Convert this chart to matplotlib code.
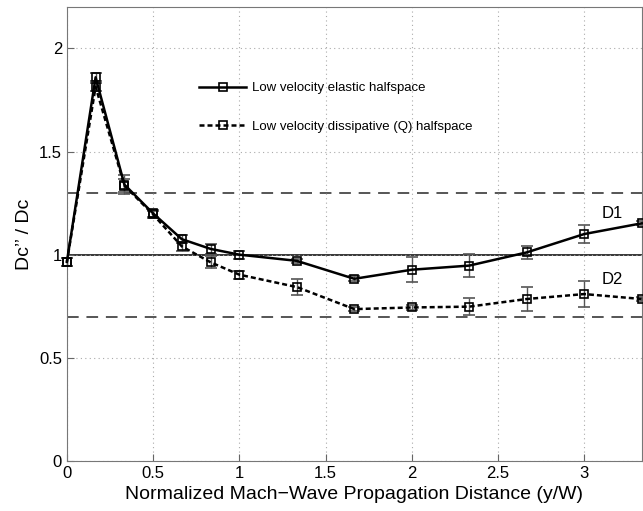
import matplotlib.pyplot as plt
from matplotlib.lines import Line2D

plt.rcParams['font.family'] = ['Liberation Sans', 'DejaVu Sans']

# normalized distance y/W
dist = [0, 1/6, 1/3, 0.5, 2/3, 5/6, 1, 4/3, 5/3, 2, 7/3, 8/3, 3, 10/3]

elastic = [0.965, 1.86, 1.34, 1.20, 1.075, 1.028, 1.00, 0.97, 0.883, 0.927, 0.947, 1.011, 1.10, 1.152]
elastic_err = [0.02, 0.02, 0.045, 0.015, 0.02, 0.025, 0.02, 0.01, 0.012, 0.06, 0.057, 0.03, 0.045, 0.01]

dissip = [0.965, 1.814, 1.335, 1.195, 1.04, 0.963, 0.903, 0.843, 0.736, 0.744, 0.748, 0.785, 0.809, 0.785]
dissip_err = [0.02, 0.02, 0.03, 0.015, 0.02, 0.03, 0.02, 0.04, 0.01, 0.01, 0.04, 0.06, 0.065, 0.01]

labels = ['Low velocity elastic halfspace', 'Low velocity dissipative (Q) halfspace']

fig = plt.figure(figsize=(6.43, 5.11), dpi=100)
ax = fig.add_axes([0.104, 0.098, 0.894, 0.888])

ax.axhline(1.0, color='k', lw=1.1, zorder=1)
ax.axhline(1.3, color='#555555', lw=1.4, ls=(0, (6, 4)), zorder=1)
ax.axhline(0.7, color='#555555', lw=1.4, ls=(0, (6, 4)), zorder=1)

dotted = (0, (2, 1.2))
for y, err, ls in [(elastic, elastic_err, '-'), (dissip, dissip_err, dotted)]:
    ax.errorbar(dist, y, yerr=err, color='k', ecolor='#555555', elinewidth=1,
                capsize=4, lw=1.8, ls=ls, marker='s', ms=6, mfc='none', mec='k', mew=1.2,
                zorder=3, clip_on=False)

ax.text(3.1, 1.2, 'D1', fontsize=12, ha='left', va='center')
ax.text(3.1, 0.88, 'D2', fontsize=12, ha='left', va='center')

ax.set_xlim(0, 10/3)
ax.set_ylim(0, 2.2)
ax.set_xticks([0, 0.5, 1, 1.5, 2, 2.5, 3])
ax.set_xticklabels(['0', '0.5', '1', '1.5', '2', '2.5', '3'])
ax.set_yticks([0, 0.5, 1, 1.5, 2])
ax.set_yticklabels(['0', '0.5', '1', '1.5', '2'])
ax.tick_params(direction='in', labelsize=12, color='#666666', length=5)
ax.grid(True, ls=(0, (1, 3)), color='#aaaaaa', lw=0.8)
for s in ax.spines.values():
    s.set_color('#777777')

ax.set_xlabel('Normalized Mach\u2212Wave Propagation Distance (y/W)', fontsize=14)
ax.set_ylabel('Dc\u2019\u2019 / Dc', fontsize=14)

handles = [Line2D([], [], color='k', lw=1.8, ls='-', marker='s', ms=6, mfc='none', mew=1.2),
           Line2D([], [], color='k', lw=1.8, ls=dotted, marker='s', ms=6, mfc='none', mew=1.2)]
ax.legend(handles, labels, loc='upper left', bbox_to_anchor=(0.21, 0.861), frameon=False,
          fontsize=9.5, handlelength=3.5, labelspacing=2.0, handletextpad=0.5)

fig.savefig('out.png', dpi=100)
